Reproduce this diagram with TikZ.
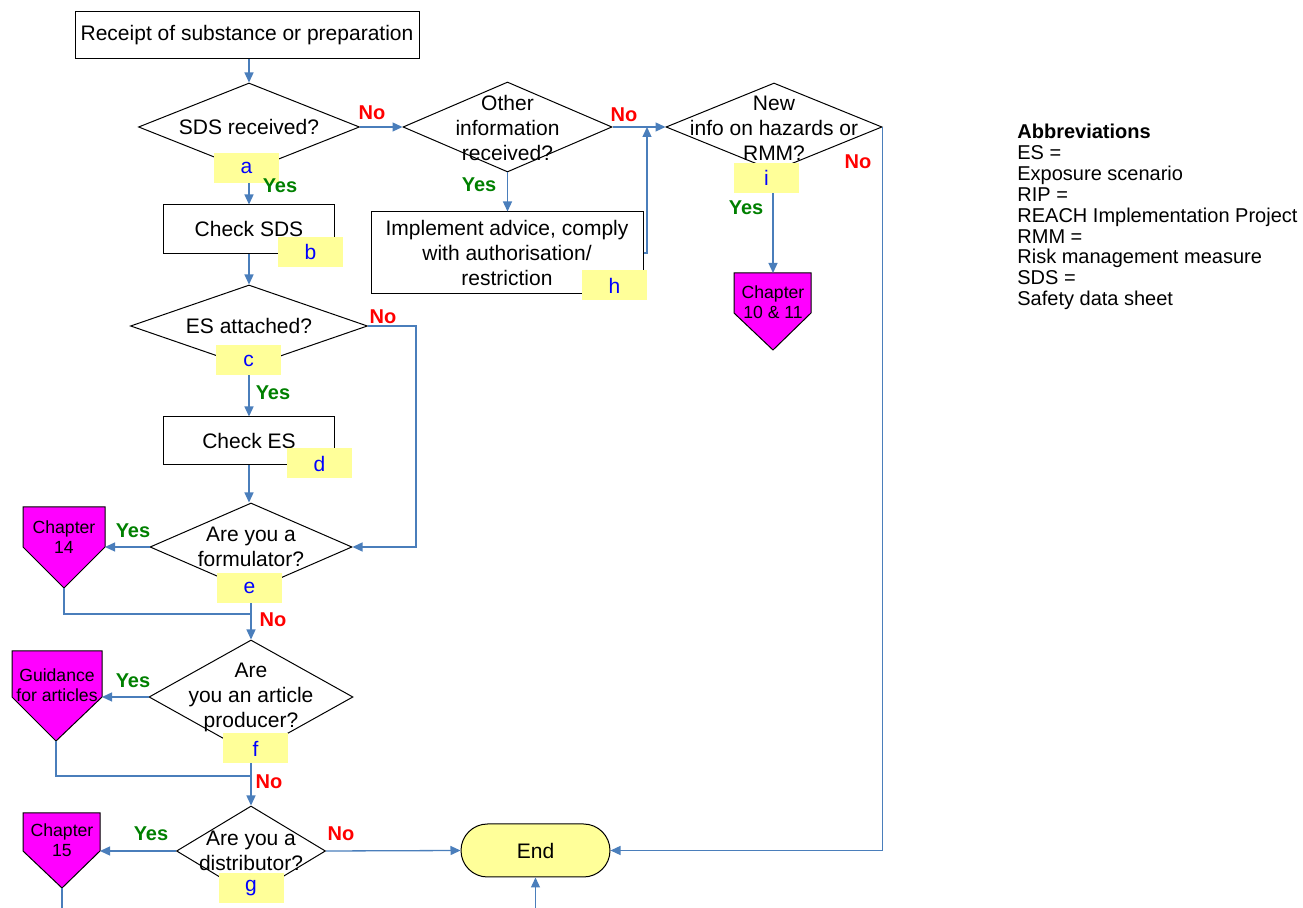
\documentclass[tikz,border=0pt]{standalone}
\usepackage{fontspec}
\setmainfont{Liberation Sans}
\usetikzlibrary{shapes,shapes.misc,arrows.meta}
\definecolor{flowblue}{RGB}{74,126,187}
\definecolor{tagyellow}{RGB}{255,255,153}
\definecolor{chapmagenta}{RGB}{255,0,255}
\definecolor{yesgreen}{RGB}{0,128,0}
\begin{document}
\begin{tikzpicture}[x=0.5pt, y=-0.5pt,
      every node/.append style={font=\fontsize{10.5}{12.5}\selectfont, inner sep=0pt, align=center}]
    \tikzstyle{proc} = [draw, rectangle, line width=0.5pt]
    \tikzstyle{query} = [draw, diamond, line width=0.5pt]
    \tikzstyle{tag} = [fill=tagyellow, text=blue, minimum width=32.5pt, minimum height=15pt]
    \tikzstyle{yes} = [text=yesgreen, font=\fontsize{10}{12}\selectfont\bfseries]
    \tikzstyle{no} = [text=red, font=\fontsize{10}{12}\selectfont\bfseries]
    \tikzstyle{chapter} = [draw, fill=chapmagenta, line width=0.5pt]
    \tikzstyle{chaptext} = [font=\fontsize{8.8}{10}\selectfont]
    \tikzstyle{flow} = [draw=flowblue, line width=0.65pt, -{Triangle[length=5pt,width=4.5pt]}]
    \tikzstyle{link} = [draw=flowblue, line width=0.65pt]
    \useasboundingbox (0,0) rectangle (1303,908);

    \node[proc, minimum width=172pt, minimum height=23.5pt] (receipt) at (247,35.5) {Receipt of substance or preparation};
    \node[query, minimum width=110.5pt, minimum height=44pt] (sds) at (249,127) {};
    \node (sds-t) at (249,127) {SDS received?};
    \node[proc, minimum width=85.5pt, minimum height=24.5pt] (checksds) at (249,229.5) {Check SDS};
    \node[query, minimum width=104.5pt, minimum height=45pt] (other) at (507.5,127) {};
    \node (other-t) at (507.5,128) {Other\\information\\received?};
    \node[proc, minimum width=136pt, minimum height=41pt] (advice) at (507,253) {Implement advice, comply\\with authorisation/\\restriction};
    \node[query, minimum width=108pt, minimum height=44pt] (newinfo) at (774,127) {};
    \node (newinfo-t) at (774,128) {New\\info on hazards or\\RMM?};
    \node[query, minimum width=118.5pt, minimum height=41pt] (es) at (249,326) {};
    \node (es-t) at (249,326) {ES attached?};
    \node[proc, minimum width=85.5pt, minimum height=24pt] (checkes) at (249,441) {Check ES};
    \node[query, minimum width=101pt, minimum height=44pt] (form) at (251,547) {};
    \node (form-t) at (251,546.5) {Are you a\\formulator?};
    \node[query, minimum width=102pt, minimum height=57pt] (art) at (251,697) {};
    \node (art-t) at (251,697) {Are\\you an article\\producer?};
    \node[query, minimum width=74.5pt, minimum height=45pt] (dist) at (251,851) {};
    \node (dist-t) at (251,850.5) {Are you a\\distributor?};
    \node[draw, rounded rectangle, fill=tagyellow, line width=0.5pt, minimum width=74.5pt, minimum height=26.5pt] (end) at (535.5,850.5) {End};

    \draw[chapter] (734,273) -- (773,273) coordinate (ch1011-top) -- (811,273) -- (811,313) -- (773,350) -- (734,313) -- cycle;
    \node[chaptext] (ch1011) at (773,302.5) {Chapter\\10 \& 11};
    \draw[chapter] (23,507) -- (105,507) -- (105,547) coordinate (ch14-in) -- (64,588) coordinate (ch14-tip) -- (23,547) -- cycle;
    \node[chaptext] (ch14) at (64,537) {Chapter\\14};
    \draw[chapter] (12,651) -- (102,651) -- (102,697) coordinate (guide-in) -- (56,741) coordinate (guide-tip) -- (12,697) -- cycle;
    \node[chaptext] (guide) at (57,685) {Guidance\\for articles};
    \draw[chapter] (23,813) -- (100,813) -- (100,851) coordinate (ch15-in) -- (62,888) coordinate (ch15-tip) -- (23,851) -- cycle;
    \node[chaptext] (ch15) at (62,840.5) {Chapter\\15};

    \coordinate (join) at (647,127);
    \coordinate (join14) at (251,614);
    \coordinate (joinguide) at (251,776);
    \coordinate (ch15-out) at (62,908);
    \coordinate (end-in) at (535.5,908);

    \draw[flow] (receipt.south -| sds.north) -- (sds.north);
    \draw[flow] (sds.south) -- (checksds.north);
    \draw[flow] (sds.east) -- (other.west);
    \draw[flow] (other.south) -- (other.south |- advice.north);
    \draw[flow] (advice.east) -| (join);
    \draw[flow] (other.east) -- (newinfo.west);
    \draw[flow] (newinfo.south -| ch1011-top) -- (ch1011-top);
    \draw[flow] (newinfo.east) |- (end.east);
    \draw[flow] (checksds.south) -- (es.north);
    \draw[flow] (es.east) -- ++(48,0) |- (form.east);
    \draw[flow] (es.south) -- (checkes.north);
    \draw[flow] (checkes.south) -- (checkes.south |- form.north);
    \draw[flow] (form.west) -- (ch14-in);
    \draw[link] (ch14-tip) |- (join14);
    \draw[flow] (form.south) -- (art.north);
    \draw[flow] (art.west) -- (guide-in);
    \draw[link] (guide-tip) |- (joinguide);
    \draw[flow] (art.south) -- (dist.north);
    \draw[flow] (dist.west) -- (ch15-in);
    \draw[link] (ch15-tip) -- (ch15-out);
    \draw[flow] (dist.east) -- (end.west);
    \draw[flow] (end-in) -- (end.south);

    \node[tag] (tag-a) at (246.5,168) {a};
    \node[tag] (tag-b) at (310.5,252) {b};
    \node[tag] (tag-c) at (248.5,360.5) {c};
    \node[tag] (tag-d) at (319.5,463.5) {d};
    \node[tag] (tag-e) at (249.5,588) {e};
    \node[tag] (tag-f) at (255.5,748.5) {f};
    \node[tag] (tag-g) at (251,888) {g};
    \node[tag] (tag-h) at (614.5,285.5) {h};
    \node[tag] (tag-i) at (766.5,178) {i};

    \node[no] (no-sds) at (372,113) {No};
    \node[yes] (yes-sds) at (280,186) {Yes};
    \node[no] (no-other) at (624,115) {No};
    \node[yes] (yes-other) at (479,185) {Yes};
    \node[no] (no-new) at (858,162) {No};
    \node[yes] (yes-new) at (746,208) {Yes};
    \node[no] (no-es) at (383,317) {No};
    \node[yes] (yes-es) at (273,393) {Yes};
    \node[yes] (yes-form) at (133,531) {Yes};
    \node[no] (no-form) at (273,620) {No};
    \node[yes] (yes-art) at (133,681) {Yes};
    \node[no] (no-art) at (269,782) {No};
    \node[yes] (yes-dist) at (151,834) {Yes};
    \node[no] (no-dist) at (341,834) {No};

    \node[anchor=west, align=left, font=\fontsize{10}{10.45}\selectfont] (abbr) at (1017,217) {\textbf{Abbreviations}\\ES =\\Exposure scenario\\RIP =\\REACH Implementation Project\\RMM =\\Risk management measure\\SDS =\\Safety data sheet};
\end{tikzpicture}
\end{document}
